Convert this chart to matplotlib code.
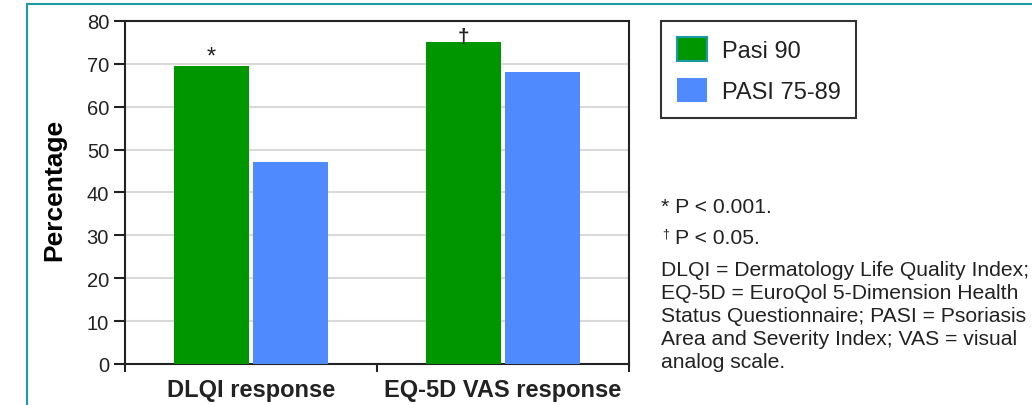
import matplotlib
matplotlib.use('Agg')
import matplotlib.pyplot as plt
import numpy as np
from matplotlib.patches import Patch
from matplotlib.lines import Line2D

plt.rcParams['font.family'] = ['Liberation Sans', 'DejaVu Sans']
plt.rcParams['text.color'] = '#222222'
plt.rcParams['xtick.color'] = '#222222'
plt.rcParams['ytick.color'] = '#222222'

categories = ['DLQI response', 'EQ-5D VAS response']
pasi90 = [69.5, 75.0]
pasi75_89 = [47.1, 68.0]
marks = ['*', '\u2020']
series_labels = ['Pasi 90', 'PASI 75-89']
yticks = [0, 10, 20, 30, 40, 50, 60, 70, 80]

green = '#009600'
blue = '#4f8bff'
teal = '#1a9aa6'

W, H = 1032, 406
fig = plt.figure(figsize=(W / 100, H / 100), dpi=100)
ax = fig.add_axes([125 / W, 41 / H, 504 / W, 343 / H])

x = np.arange(len(categories))
w = 0.298
gap = 0.008
ax.bar(x - w / 2 - gap, pasi90, w, color=green, zorder=3)
ax.bar(x + w / 2 + gap, pasi75_89, w, color=blue, zorder=3)

# significance marks over the Pasi 90 bars
ax.text(x[0] - w / 2 - gap, pasi90[0] + 0.9, marks[0], ha='center', va='baseline', fontsize=17)
ax.text(x[1] - w / 2 - gap, pasi90[1] + 0.15, marks[1], ha='center', va='baseline',
        fontsize=15, fontweight='bold', zorder=4)

ax.set_xlim(-0.5, 1.5)
ax.set_ylim(0, 80)
ax.set_yticks(yticks)
ax.set_xticks(x)
ax.set_xticklabels(categories, fontweight='bold', fontsize=17)
ax.set_xticks([-0.5, 0.5, 1.5], minor=True)
ax.tick_params(axis='x', which='major', length=0, pad=10)
ax.tick_params(axis='x', which='minor', length=6, width=1.5)
ax.tick_params(axis='y', length=8, width=1.5, pad=3.5, labelsize=14.5)
ax.grid(axis='y', color='#d9d9d9', lw=1.5, zorder=0)
ax.set_axisbelow(True)
for s in ax.spines.values():
    s.set_linewidth(1.5)
    s.set_color('#222222')

ax.set_ylabel('Percentage', fontsize=19, fontweight='bold', va='center')
ax.yaxis.set_label_coords(-0.14, 0.51)

handles = [Patch(facecolor=green, edgecolor=teal, lw=1.5),
           Patch(facecolor=blue, edgecolor='none')]
leg = fig.legend(handles, series_labels, loc='upper left',
                 bbox_to_anchor=(661 / W, 1 - 22 / H), borderaxespad=0,
                 fontsize=17, fancybox=False, edgecolor='#333333', framealpha=1,
                 handlelength=1.27, handleheight=1.19, labelspacing=0.68,
                 handletextpad=0.64, borderpad=0.66)
leg.get_frame().set_linewidth(1.5)

notes = ('DLQI = Dermatology Life Quality Index;\n'
         'EQ-5D = EuroQol 5-Dimension Health\n'
         'Status Questionnaire; PASI = Psoriasis\n'
         'Area and Severity Index; VAS = visual\n'
         'analog scale.')
fig.text(661 / W, 1 - 213.5 / H, '* P < 0.001.', fontsize=15.2, va='baseline')
fig.text(662 / W, 1 - 238 / H, '\u2020', fontsize=9, va='baseline')
fig.text(675 / W, 1 - 244 / H, 'P < 0.05.', fontsize=15.2, va='baseline')
fig.text(661 / W, 1 - 261.5 / H, notes, fontsize=15.2, va='top', linespacing=1.26)

# teal frame of the figure panel
fig.add_artist(Line2D([27 / W, 27 / W], [0, 1 - 5 / H], color=teal, lw=1.5))
fig.add_artist(Line2D([27 / W, 1], [1 - 5 / H, 1 - 5 / H], color=teal, lw=1.5))

fig.savefig('out.png', dpi=100)
